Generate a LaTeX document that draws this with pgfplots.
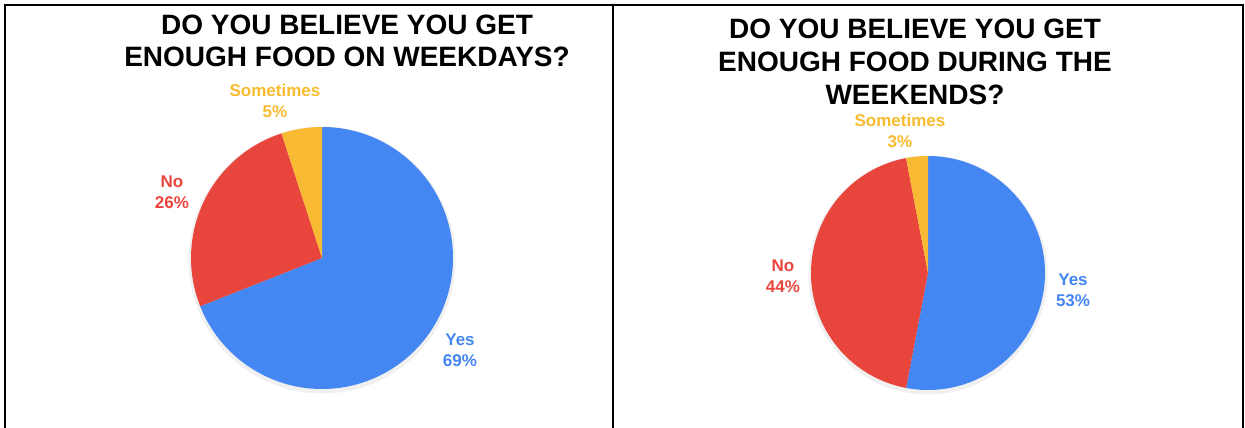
\documentclass[border=0pt]{standalone}
\usepackage{pgfplots}
\usepackage{pgfplotstable}
\pgfplotsset{compat=1.18}
\usepackage{fontspec}
\setmainfont{Liberation Sans}
\definecolor{gblue}{HTML}{4487F2}
\definecolor{gred}{HTML}{E8453C}
\definecolor{gyellow}{HTML}{F8BA32}
\definecolor{glabel}{HTML}{F9BB2E}

\pgfplotstableread{
label value
Yes 69
No 26
Sometimes 5
}\weekdays
\pgfplotstableread{
label value
Yes 53
No 44
Sometimes 3
}\weekends

\newcommand\getv[3]{\pgfplotstablegetelem{#2}{value}\of#1\xdef#3{\pgfplotsretval}}

\begin{document}
\begin{tikzpicture}
\useasboundingbox (0,0) rectangle (1245pt,428pt);
\getv\weekdays{0}\wdA \getv\weekdays{1}\wdB \getv\weekdays{2}\wdC
\getv\weekends{0}\weA \getv\weekends{1}\weB \getv\weekends{2}\weC
\pgfmathsetmacro\wdS{\wdA+\wdB+\wdC}
\pgfmathsetmacro\wdaA{90-360*(\wdA/\wdS)}
\pgfmathsetmacro\wdaB{\wdaA-360*(\wdB/\wdS)}
\pgfmathsetmacro\weS{\weA+\weB+\weC}
\pgfmathsetmacro\weaA{90-360*(\weA/\weS)}
\pgfmathsetmacro\weaB{\weaA-360*(\weB/\weS)}
\begin{axis}[
  anchor=south west, at={(0,0)},
  scale only axis, width=1245pt, height=428pt,
  xmin=0, xmax=1245, ymin=0, ymax=428, y dir=reverse,
  axis lines=none, clip=false,
]
% borders
\draw[line width=1.6pt, black] (axis cs:5,440) -- (axis cs:5,5) -- (axis cs:1243,5) -- (axis cs:1243,440);
\draw[line width=1.3pt, black] (axis cs:613,5) -- (axis cs:613,440);
% titles
\node[align=center, font=\fontsize{28}{32}\selectfont\bfseries] at (axis cs:347,41)
  {DO YOU BELIEVE YOU GET\\ENOUGH FOOD ON WEEKDAYS?};
\node[align=center, font=\fontsize{28}{33}\selectfont\bfseries] at (axis cs:915,62)
  {DO YOU BELIEVE YOU GET\\ENOUGH FOOD DURING THE\\WEEKENDS?};
% shadows
\fill[black, opacity=0.06] (axis cs:322,260) circle[radius=133.5pt];
\fill[black, opacity=0.06] (axis cs:928,275) circle[radius=119.5pt];
% left pie
\fill[gblue] (axis cs:322,258) -- +(90:131pt) arc[start angle=90, end angle=\wdaA, radius=131pt] -- cycle;
\fill[gred] (axis cs:322,258) -- +(\wdaA:131pt) arc[start angle=\wdaA, end angle=\wdaB, radius=131pt] -- cycle;
\fill[gyellow] (axis cs:322,258) -- +(\wdaB:131pt) arc[start angle=\wdaB, end angle=-270, radius=131pt] -- cycle;
% right pie
\fill[gblue] (axis cs:928,273) -- +(90:117pt) arc[start angle=90, end angle=\weaA, radius=117pt] -- cycle;
\fill[gred] (axis cs:928,273) -- +(\weaA:117pt) arc[start angle=\weaA, end angle=\weaB, radius=117pt] -- cycle;
\fill[gyellow] (axis cs:928,273) -- +(\weaB:117pt) arc[start angle=\weaB, end angle=-270, radius=117pt] -- cycle;
% labels
\begin{scope}[every node/.style={align=center, font=\fontsize{17}{21}\selectfont\bfseries}]
\node[text=glabel] at (axis cs:275,101) {Sometimes\\\wdC\%};
\node[text=gred] at (axis cs:172,192) {No\\\wdB\%};
\node[text=gblue] at (axis cs:460,350) {Yes\\\wdA\%};
\node[text=glabel] at (axis cs:900,131) {Sometimes\\\weC\%};
\node[text=gred] at (axis cs:783,276) {No\\\weB\%};
\node[text=gblue] at (axis cs:1073,290) {Yes\\\weA\%};
\end{scope}
\end{axis}
\end{tikzpicture}
\end{document}
